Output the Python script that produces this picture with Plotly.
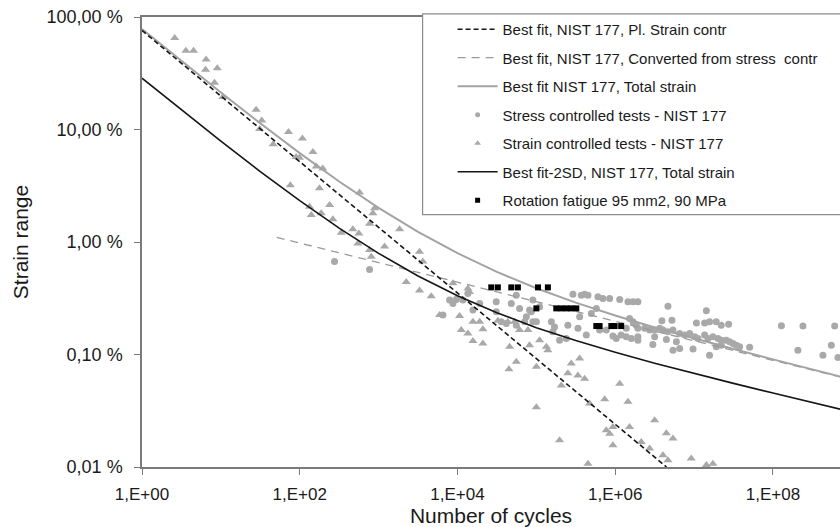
import plotly.graph_objects as go

# ---- fitted curves: cycles vs strain range (%) ----
fit_n = [1, 3.16, 10, 31.6, 100, 316, 1e3, 3.16e3, 1e4, 3.16e4, 1e5, 3.16e5,
         1e6, 3.16e6, 1e7, 3.16e7, 1e8, 3.16e8, 1e9]
total_fit = [78.2, 40.6, 21.3, 11.35, 6.17, 3.45, 2.01, 1.23, 0.795, 0.542, 0.388,
             0.289, 0.222, 0.174, 0.139, 0.112, 0.0905, 0.0736, 0.060]
total_2sd = [28.6, 14.9, 7.88, 4.23, 2.33, 1.33, 0.793, 0.499, 0.333, 0.235, 0.173,
             0.133, 0.1046, 0.0837, 0.0678, 0.0554, 0.0454, 0.0373, 0.0309]

plastic_n = [1, 4.47e6]
plastic_fit = [76.0, 0.01]
elastic_n = [51, 1e9]
elastic_fit = [1.10, 0.0595]

# ---- stress controlled tests (circles) ----
stress_n = [276, 768, 6530, 7940, 9660, 8750, 11700, 13550, 15700, 19100, 31000, 48100,
            61300, 82000, 86300, 55700, 90400, 110000, 31000, 35900, 41600, 55700, 71000,
            74600, 90400, 1e5, 155000, 170000, 162000, 197000, 251000, 337000, 430000,
            240000, 576000, 498000, 354000, 291000, 372000, 409000, 451000, 604000, 698000,
            850000, 1.14e6, 1.45e6, 1.68e6, 1.94e6, 1.52e6, 1.68e6, 1.85e6, 1.38e6, 935000,
            1.03e6, 1.19e6, 1.38e6, 1.60e6, 1.94e6, 634000, 771000,
            1.94e6, 2.36e6, 2.73e6, 3.16e6, 3.66e6, 4.03e6, 4.66e6, 5.4e6, 6.56e6, 7.6e6,
            8.8e6, 1.02e7, 1.12e7, 1.36e7, 1.5e7, 1.73e7, 2.01e7, 2.21e7, 2.56e7, 2.82e7,
            3.11e7, 3.43e7, 3.78e7, 5.06e7, 3.91e6, 5.24e6, 1.07e7, 1.36e7, 1.57e7, 1.91e7,
            2.21e7, 2.74e7, 1.94e6, 3.16e6, 3.0e6, 4.45e6, 5.4e6, 5.96e6, 6.56e6, 9.7e6,
            1.57e7, 1.91e7, 2.21e7, 4.66e6, 1.43e7, 1.28e8, 2.4e8, 6.06e8, 2.07e8, 4.3e8,
            5.5e8, 6.67e8]
stress_strain = [0.67, 0.57, 0.224, 0.305, 0.309, 0.284, 0.305, 0.349, 0.248, 0.284, 0.294,
                 0.284, 0.257, 0.248, 0.240, 0.337, 0.305, 0.266, 0.240, 0.195, 0.189, 0.182,
                 0.195, 0.216, 0.195, 0.195, 0.195, 0.176, 0.159, 0.134, 0.182, 0.171, 0.149,
                 0.139, 0.257, 0.232, 0.216, 0.344, 0.337, 0.344, 0.337, 0.326, 0.315, 0.315,
                 0.309, 0.294, 0.294, 0.294, 0.209, 0.195, 0.182, 0.171, 0.146, 0.139, 0.149,
                 0.144, 0.139, 0.144, 0.165, 0.165,
                 0.171, 0.171, 0.165, 0.165, 0.171, 0.165, 0.159, 0.165, 0.154, 0.149,
                 0.154, 0.144, 0.139, 0.149, 0.139, 0.144, 0.139, 0.134, 0.134, 0.130,
                 0.125, 0.121, 0.117, 0.116, 0.20, 0.202, 0.191, 0.191, 0.195, 0.195,
                 0.182, 0.186, 0.134, 0.144, 0.123, 0.136, 0.109, 0.130, 0.113, 0.112,
                 0.0986, 0.117, 0.121, 0.269, 0.245, 0.180, 0.179, 0.179, 0.109, 0.0986,
                 0.121, 0.094]

# ---- strain controlled tests (triangles) ----
strain_n = [2.6, 3.6, 4.5, 6.5, 6.4, 9.0, 8.3, 10.6, 28, 33, 31, 46, 72, 108, 147, 90, 99,
            162, 196, 76, 178, 573, 239, 140, 133, 263, 187, 889, 846, 768, 1845, 471, 336,
            562, 546, 1190, 807, 768, 3300, 3640, 2240, 3300, 4650, 8750,
            14200, 10640, 11170, 13550, 15700, 21000, 15700, 19100, 21000, 32500, 43500,
            53000, 45800, 55700, 44900, 61300, 78200, 82000, 1e5, 110000, 134000, 140000,
            1e5, 207000, 251000, 277000, 354000, 337000, 409000, 197000, 473000, 735000,
            771000, 935000, 1.14e6, 1.45e6, 1.52e6, 935000, 451000, 850000,
            3.16e6, 4.45e6, 5.4e6, 2.14e6, 2.73e6, 4.03e6, 4.66e6, 9.2e6, 1.43e7, 1.73e7,
            5930, 13550, 9660]
strain_strain = [65, 50, 50, 42, 34, 35, 26, 19.4, 15, 12.0, 10.1, 7.4, 9.5, 8.3, 6.3, 5.7,
                 5.6, 4.7, 4.5, 3.2, 3.0, 2.75, 2.13, 1.74, 2.06, 1.59, 1.80, 2.0, 1.80, 1.45,
                 1.30, 1.30, 1.21, 1.19, 0.97, 0.91, 0.74, 0.85, 0.82, 0.67, 0.44, 0.37, 0.33,
                 0.43,
                 0.36, 0.22, 0.165, 0.154, 0.132, 0.125, 0.195, 0.195, 0.168, 0.20, 0.195,
                 0.195, 0.117, 0.086, 0.074, 0.165, 0.165, 0.121, 0.078, 0.134, 0.117, 0.109,
                 0.034, 0.053, 0.068, 0.083, 0.092, 0.065, 0.061, 0.0173, 0.0367, 0.040,
                 0.0212, 0.0227, 0.055, 0.038, 0.0227, 0.0156, 0.0107, 0.0198,
                 0.026, 0.020, 0.0179, 0.0167, 0.0146, 0.0127, 0.0115, 0.0119, 0.0104, 0.0107,
                 0.224, 0.387, 0.315]

# ---- rotation fatigue, 95 mm2, 90 MPa ----
rot_n = [26800, 32500, 48100, 58300, 105000, 140000,
         1.0e5, 179000, 207000, 240000, 277000, 321000,
         576000, 634000, 893000, 983000, 1.19e6]
rot_strain = [0.395, 0.395, 0.395, 0.395, 0.395, 0.395,
              0.257, 0.257, 0.257, 0.257, 0.257, 0.257,
              0.179, 0.179, 0.179, 0.179, 0.179]

# ---- axis ticks ----
x_tickvals = [1, 1e2, 1e4, 1e6, 1e8]
x_ticktext = ["1,E+00", "1,E+02", "1,E+04", "1,E+06", "1,E+08"]
y_tickvals = [0.01, 0.1, 1, 10, 100]
y_ticktext = ["0,01 %", "0,10 %", "1,00 %", "10,00 %", "100,00 %"]

GRAY_MARK = "#a9a9a9"
GRAY_LINE = "#a3a3a3"
BLACK = "#151515"
FONT = "Liberation Sans, Arial, sans-serif"

NAMES = ["Best fit, NIST 177, Pl. Strain contr",
         "Best fit, NIST 177, Converted from stress\u00a0 contr",
         "Best fit NIST 177, Total strain",
         "Stress controlled tests - NIST 177",
         "Strain controlled tests - NIST 177",
         "Best fit-2SD, NIST 177, Total strain",
         "Rotation fatigue 95 mm2, 90 MPa"]

line_plastic = dict(color=BLACK, width=1.6, dash="5px,3px")
line_elastic = dict(color="#9a9a9a", width=1.3, dash="8px,6px")
line_total = dict(color=GRAY_LINE, width=2)
line_2sd = dict(color=BLACK, width=1.6)

fig = go.Figure()

# data layers
fig.add_trace(go.Scatter(x=stress_n, y=stress_strain, mode="markers", showlegend=False,
                         marker=dict(symbol="circle", size=7, color=GRAY_MARK)))
fig.add_trace(go.Scatter(x=strain_n, y=strain_strain, mode="markers", showlegend=False,
                         marker=dict(symbol="triangle-up", size=8, color=GRAY_MARK)))
fig.add_trace(go.Scatter(x=elastic_n, y=elastic_fit, mode="lines", showlegend=False,
                         line=line_elastic))
fig.add_trace(go.Scatter(x=fit_n, y=total_fit, mode="lines", showlegend=False,
                         line=line_total))
fig.add_trace(go.Scatter(x=plastic_n, y=plastic_fit, mode="lines", showlegend=False,
                         line=line_plastic))
fig.add_trace(go.Scatter(x=fit_n, y=total_2sd, mode="lines", showlegend=False,
                         line=line_2sd))
fig.add_trace(go.Scatter(x=rot_n, y=rot_strain, mode="markers", showlegend=False,
                         marker=dict(symbol="square", size=6, color="#000000")))

# legend entries (smaller symbols than in the plot body)
legend_styles = [
    dict(mode="lines", line=line_plastic),
    dict(mode="lines", line=line_elastic),
    dict(mode="lines", line=line_total),
    dict(mode="markers", marker=dict(symbol="circle", size=5, color=GRAY_MARK)),
    dict(mode="markers", marker=dict(symbol="triangle-up", size=6, color=GRAY_MARK)),
    dict(mode="lines", line=line_2sd),
    dict(mode="markers", marker=dict(symbol="square", size=5, color="#000000")),
]
for i, (name, style) in enumerate(zip(NAMES, legend_styles)):
    fig.add_trace(go.Scatter(x=[None], y=[None], name=name, legendgroup=f"g{i}",
                             legendrank=i + 1, **style))

# legend frame (the box runs off the right edge of the chart)
fig.add_shape(type="rect", xref="paper", yref="paper", x0=0.402, x1=1.05, y0=0.561, y1=1.007,
              line=dict(color="#8c8c8c", width=1.2), fillcolor="white", layer="above")

fig.update_layout(
    width=840, height=527,
    margin=dict(l=142, r=0, t=17, b=60),
    paper_bgcolor="white", plot_bgcolor="white",
    font=dict(family=FONT, color="#1a1a1a"),
    showlegend=True,
    legend=dict(x=0.445, y=1.009, xanchor="left", yanchor="top",
                bgcolor="rgba(0,0,0,0)", borderwidth=0,
                font=dict(size=15, family=FONT, color="#1a1a1a"),
                tracegroupgap=6, itemwidth=40, traceorder="grouped"),
    xaxis=dict(type="log", range=[0, 8.85], tickvals=x_tickvals, ticktext=x_ticktext,
               showgrid=False, zeroline=False, showline=True, linecolor="#7a7a7a",
               linewidth=1.5, mirror=True, ticks="outside", ticklen=6, tickcolor="#7a7a7a",
               tickfont=dict(size=17), ticklabelstandoff=5,
               title=dict(text="Number of cycles", font=dict(size=21), standoff=3)),
    yaxis=dict(type="log", range=[-2, 2], tickvals=y_tickvals, ticktext=y_ticktext,
               showgrid=False, zeroline=False, showline=True, linecolor="#7a7a7a",
               linewidth=1.5, ticks="outside", ticklen=6, tickcolor="#7a7a7a",
               tickfont=dict(size=18), ticklabelstandoff=8,
               title=dict(text="Strain range", font=dict(size=21), standoff=12)),
)

fig.write_html("out.html")
